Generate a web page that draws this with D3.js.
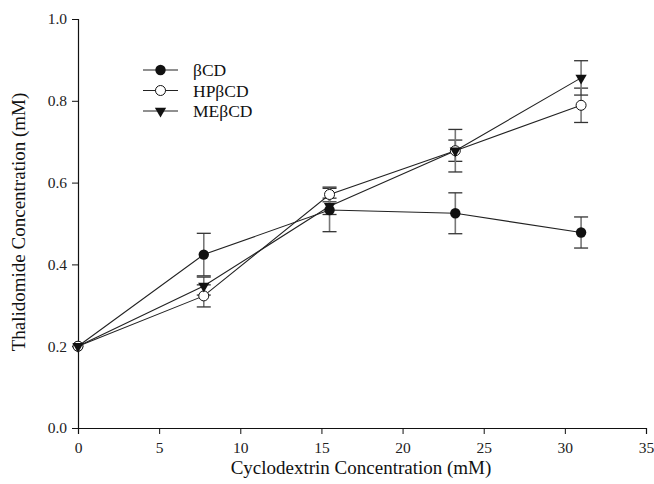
<!DOCTYPE html>
<html><head><meta charset="utf-8">
<script src="https://cdn.jsdelivr.net/npm/d3@7"></script>
<style>body{margin:0;background:#fff}svg{display:block}</style>
</head><body><svg id="c" width="654" height="484"></svg>
<script>
const xVals = [0, 7.75, 15.5, 23.25, 31.0];
const seriesNames = ["βCD", "HPβCD", "MEβCD"];
const bcdVals = [0.2, 0.424, 0.533, 0.525, 0.478];
const bcdErr = [0, 0.052, 0.053, 0.05, 0.038];
const hpVals = [0.2, 0.323, 0.571, 0.678, 0.789];
const hpErr = [0, 0.027, 0.018, 0.026, 0.042];
const meVals = [0.2, 0.347, 0.542, 0.678, 0.856];
const meErr = [0, 0.022, 0.02, 0.052, 0.042];
const xTicks = [0, 5, 10, 15, 20, 25, 30, 35];
const yTicks = [0.0, 0.2, 0.4, 0.6, 0.8, 1.0];

const FONT = "'Liberation Serif', 'Times New Roman', Times, 'DejaVu Serif', serif";
const svg = d3.select("#c");
const x = d3.scaleLinear().domain([0, 35]).range([78, 646]);
const y = d3.scaleLinear().domain([0, 1]).range([428, 19]);

const xAxis = svg.append("g").attr("transform", "translate(0,428)")
  .call(d3.axisBottom(x).tickValues(xTicks).tickSize(6).tickPadding(8).tickFormat(d3.format("d")));
const yAxis = svg.append("g").attr("transform", "translate(78,0)")
  .call(d3.axisLeft(y).tickValues(yTicks).tickSize(6).tickPadding(5).tickFormat(d3.format(".1f")));
[xAxis, yAxis].forEach(a => {
  a.attr("font-family", null);
  a.select(".domain").attr("stroke", "#111").attr("stroke-width", 1.2);
  a.selectAll(".tick line").attr("stroke", "#111").attr("stroke-width", 1);
  a.selectAll(".tick text").attr("font-size", 15.5).attr("fill", "#222")
    .style("font-family", FONT);
});

svg.append("text").attr("x", 361).attr("y", 474).attr("text-anchor", "middle")
  .style("font-family", FONT).attr("font-size", 19).attr("fill", "#111").text("Cyclodextrin Concentration (mM)");
svg.append("text").attr("transform", "translate(25,222) rotate(-90)").attr("text-anchor", "middle")
  .style("font-family", FONT).attr("font-size", 19).attr("fill", "#111").text("Thalidomide Concentration (mM)");

const series = [
  {name: seriesNames[0], vals: bcdVals, err: bcdErr, type: "filled"},
  {name: seriesNames[1], vals: hpVals, err: hpErr, type: "open"},
  {name: seriesNames[2], vals: meVals, err: meErr, type: "tri"}
];

const line = d3.line().x((d, i) => x(xVals[i])).y(d => y(d));

series.forEach(s => {
  const g = svg.append("g");
  s.vals.forEach((v, i) => {
    if (!s.err[i]) return;
    const cx = x(xVals[i]);
    g.append("line").attr("x1", cx).attr("x2", cx)
      .attr("y1", y(v - s.err[i])).attr("y2", y(v + s.err[i]))
      .attr("stroke", "#777").attr("stroke-width", 1.6);
    [v - s.err[i], v + s.err[i]].forEach(e => {
      g.append("line").attr("x1", cx - 7).attr("x2", cx + 7)
        .attr("y1", y(e)).attr("y2", y(e)).attr("stroke", "#333").attr("stroke-width", 1.3);
    });
  });
});

series.forEach(s => {
  svg.append("path").datum(s.vals).attr("d", line).attr("fill", "none")
    .attr("stroke", "#222").attr("stroke-width", 1.1);
});

function marker(g, type, cx, cy) {
  if (type === "filled") {
    g.append("circle").attr("cx", cx).attr("cy", cy).attr("r", 5.2).attr("fill", "#111");
  } else if (type === "open") {
    g.append("circle").attr("cx", cx).attr("cy", cy).attr("r", 5).attr("fill", "#fff")
      .attr("stroke", "#111").attr("stroke-width", 1);
  } else {
    g.append("path").attr("d", d3.symbol().type(d3.symbolTriangle).size(55)())
      .attr("transform", `translate(${cx},${cy}) rotate(180)`).attr("fill", "#111");
  }
}

series.forEach(s => {
  const g = svg.append("g");
  s.vals.forEach((v, i) => marker(g, s.type, x(xVals[i]), y(v)));
});

const lg = svg.append("g");
series.forEach((s, i) => {
  const ly = 70 + i * 20.5;
  lg.append("line").attr("x1", 143).attr("x2", 178).attr("y1", ly).attr("y2", ly)
    .attr("stroke", "#222").attr("stroke-width", 1.1);
  marker(lg, s.type, 160.5, ly);
  lg.append("text").attr("x", 193).attr("y", ly + 6).attr("font-size", 17.5)
    .style("font-family", FONT).attr("fill", "#111").text(s.name);
});
</script></body></html>
